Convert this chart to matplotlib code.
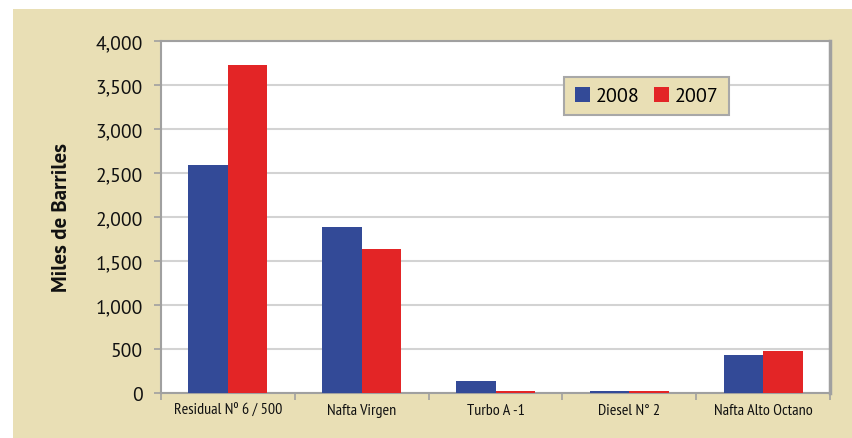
import matplotlib
matplotlib.use("Agg")
import matplotlib.pyplot as plt
from matplotlib import font_manager as fm
from matplotlib.patches import Rectangle
import numpy as np

categories = ["Residual Nº 6 / 500", "Nafta Virgen", "Turbo A -1", "Diesel N° 2", "Nafta Alto Octano"]
series_names = ["2008", "2007"]
values_2008 = [2590, 1885, 135, 22, 432]
values_2007 = [3730, 1635, 25, 25, 477]
yticks = [0, 500, 1000, 1500, 2000, 2500, 3000, 3500, 4000]

available = {f.name for f in fm.fontManager.ttflist}
def pick(cands):
    for c in cands:
        if c in available:
            return c
    return "DejaVu Sans"

main_font = pick(["PT Sans", "Open Sans"])
narrow_font = pick(["PT Sans Narrow", "Roboto Condensed", "Archivo Narrow", "Asap Condensed", "Liberation Sans"])

beige = "#e9dfb5"
blue = "#334a97"
red = "#e32526"

fig = plt.figure(figsize=(8.52, 4.39), dpi=100)
fig.patch.set_facecolor("white")
bg = Rectangle((13/852, 0), 1, 1 - 10/439, transform=fig.transFigure,
               facecolor=beige, edgecolor="none", zorder=-10)
fig.add_artist(bg)

ax = fig.add_axes([161/852, (439-394)/439, (830-161)/852, (394-42)/439])
ax.set_zorder(1)
ax.set_facecolor("white")
x = np.arange(len(categories))
w = 0.295
ax.bar(x - w/2, values_2008, w, color=blue, label=series_names[0], zorder=3)
ax.bar(x + w/2, values_2007, w, color=red, label=series_names[1], zorder=3)

ax.set_xlim(-0.5, len(categories) - 0.5)
ax.set_ylim(0, 4000)
ax.set_yticks(yticks)
ax.set_yticklabels([f"{v:,}" for v in yticks], fontsize=14, family=main_font, color="#111111")
ax.yaxis.grid(True, color="#d3d3d3", linewidth=1.5, zorder=0)
ax.set_axisbelow(True)

ax.set_xticks(x)
ax.set_xticklabels(categories, fontsize=11.5, family=narrow_font, color="#111111")
ax.set_xticks(np.arange(len(categories) + 1) - 0.5, minor=True)
ax.tick_params(axis="x", which="major", length=0, pad=7)
ax.tick_params(axis="x", which="minor", length=5, color="#a0a0a0", width=1.2)
ax.tick_params(axis="y", length=5, color="#a0a0a0", width=1.2, pad=8)

for s in ["left", "bottom", "top"]:
    ax.spines[s].set_color("#a0a0a0")
    ax.spines[s].set_linewidth(1.5)
ax.spines["right"].set_color("#a0a0a0")
ax.spines["right"].set_linewidth(2.5)

ax.set_ylabel("Miles de Barriles", fontsize=15, fontweight="bold", family=main_font,
              labelpad=18, color="#111111")

leg = ax.legend(loc="upper left", bbox_to_anchor=(0.588, 0.927), ncol=2,
                frameon=True, fancybox=False, handlelength=0.75, handleheight=0.75,
                handletextpad=0.3, columnspacing=0.7, borderpad=0.5,
                prop={"family": main_font, "size": 14.5})
leg.get_frame().set_facecolor(beige)
leg.get_frame().set_edgecolor("#a8a8a8")
leg.get_frame().set_linewidth(1.5)
leg.get_frame().set_alpha(1)

fig.savefig("out.png", dpi=100)
